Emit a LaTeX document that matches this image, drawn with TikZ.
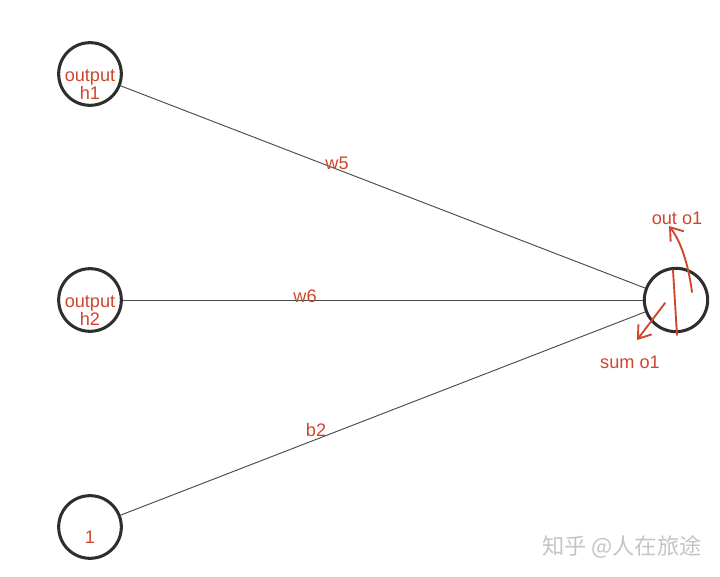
\documentclass[tikz,border=0pt]{standalone}
\usepackage{fontspec}
\setmainfont{Liberation Sans}
\newfontfamily\cjk{Noto Sans CJK SC}
\usepackage{tikz}
\usetikzlibrary{positioning,arrows.meta,calc}
\definecolor{nnInk}{HTML}{2E2E2E}
\definecolor{nnEdge}{HTML}{4A4A4A}
\definecolor{nnRed}{HTML}{D0452E}
\definecolor{nnMark}{HTML}{C4C4C4}
\newcommand{\nnlbl}[1]{\raisebox{-4.9mm}[0pt][0pt]{\begin{tabular}{@{}c@{}}#1\end{tabular}}}
\tikzset{
  neuron/.style   = {circle, draw=nnInk, line width=2.6pt, minimum size=18.8mm,
                     inner sep=0pt, align=center, text=nnRed,
                     font=\fontsize{15.5}{17}\selectfont},
  wire/.style     = {draw=nnEdge, line width=0.8pt},
  wlbl/.style     = {text=nnRed, font=\fontsize{15.5}{17}\selectfont, inner sep=1pt},
  scribble/.style = {draw=nnRed, line width=1.6pt, line cap=round},
  scrarrow/.style = {scribble, -{Straight Barb[length=3.5mm,width=5mm]}},
}

\begin{document}
\begin{tikzpicture}[x=0.3mm, y=-0.3mm]
  \useasboundingbox (0,0) rectangle (720,577);

  % input side
  \node[neuron] (h1) at (90,74)  {\nnlbl{output\\[-1.5pt]h1}};
  \node[neuron] (h2) at (90,300) {\nnlbl{output\\[-1.5pt]h2}};
  \node[neuron] (one) at (90,527) {\nnlbl{1}};
  % output neuron
  \node[neuron, minimum size=19mm] (o1) at (676,300) {};

  \draw[wire] (h1) -- (o1);
  \draw[wire] (h2) -- (o1);
  \draw[wire] (one) -- (o1);

  \node[wlbl] (w5) at (337,163) {w5};
  \node[wlbl] (w6) at (305,296) {w6};
  \node[wlbl] (b2) at (316,430) {b2};

  % hand-drawn split of o1
  \coordinate (cut top) at (673,270);
  \coordinate (cut bot) at (677,335);
  \draw[scribble] (cut top) -- (cut bot);

  \coordinate (out from) at (692,292);
  \coordinate (out tip)  at (669,226);
  \draw[scrarrow] (out from) .. controls (688,262) and (680,240) .. (out tip);
  \node[wlbl] (outlbl) at (677,218) {out o1};

  \coordinate (sum from) at (665,303);
  \coordinate (sum tip)  at (637,340);
  \draw[scrarrow] (sum from) -- (sum tip);
  \node[wlbl] (sumlbl) at (630,362) {sum o1};

  % watermark
  \node[text=nnMark, font=\cjk\fontsize{19}{20}\selectfont, anchor=west]
    (wm) at (538,547) {知乎 @人在旅途};
\end{tikzpicture}
\end{document}
